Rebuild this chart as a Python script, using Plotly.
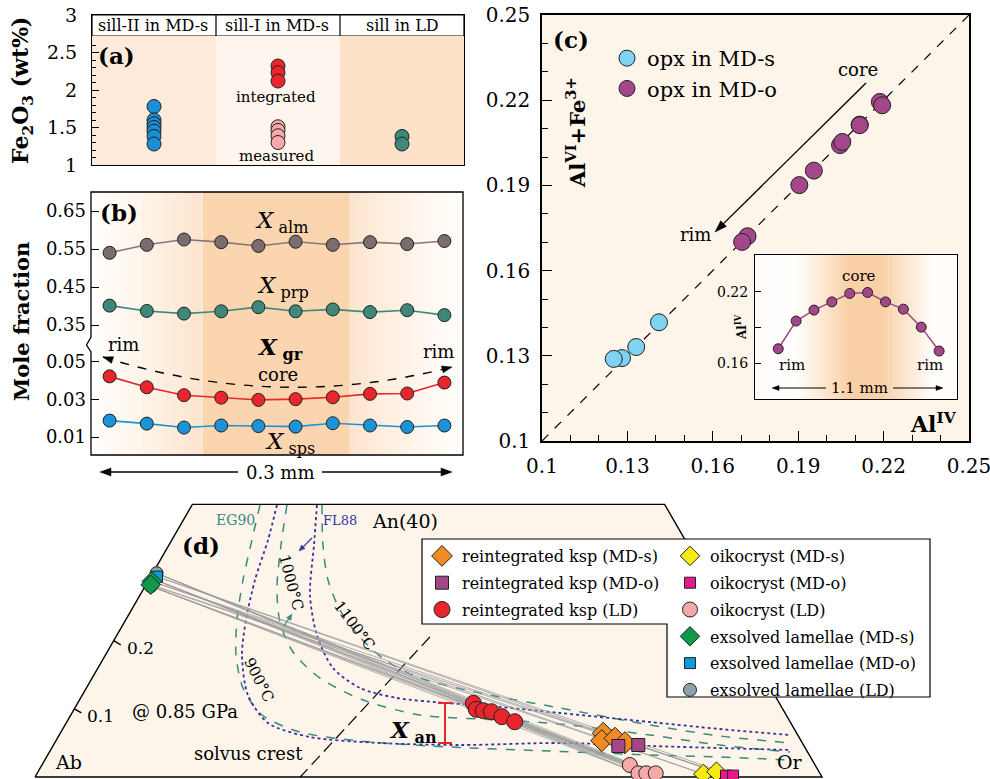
import math
import plotly.graph_objects as go

W, H = 990, 779
FONT = "DejaVu Serif"


def PX(x):
    return x / W


def PY(y):
    return 1 - y / H


# ---------------- (a) Fe2O3 ----------------
a_columns = ["sill-II in MD-s", "sill-I in MD-s", "sill in LD"]
a_sill2_fe2o3 = [1.78, 1.60, 1.55, 1.50, 1.45, 1.38, 1.28]
a_sill1_integrated = [2.32, 2.23, 2.12]
a_sill1_measured = [1.51, 1.46, 1.39, 1.30]
a_ld_fe2o3 = [1.38, 1.28]
a_yticks = [1, 1.5, 2, 2.5, 3]
a_yticktext = ["1", "1.5", "2", "2.5", "3"]

# ---------------- (b) garnet profile ----------------
b_points = [1, 2, 3, 4, 5, 6, 7, 8, 9, 10]
b_alm = [0.540, 0.561, 0.575, 0.568, 0.558, 0.569, 0.561, 0.568, 0.563, 0.571]
b_prp = [0.401, 0.387, 0.380, 0.386, 0.397, 0.386, 0.391, 0.384, 0.389, 0.376]
b_grs = [0.0423, 0.0365, 0.0323, 0.0310, 0.0298, 0.0302, 0.0312, 0.0330, 0.0332, 0.0390]
b_sps = [0.0188, 0.0172, 0.0151, 0.0162, 0.0159, 0.0156, 0.0174, 0.0162, 0.0154, 0.0162]
b_upper_ticks = [0.35, 0.45, 0.55, 0.65]
b_lower_ticks = [0.01, 0.03, 0.05]

# ---------------- (c) opx ----------------
c_mds_aliv = [0.1411, 0.1331, 0.1281, 0.1252]
c_mds_alvi_fe3 = [0.1418, 0.1331, 0.1292, 0.1289]
c_mdo_aliv = [0.1722, 0.1955, 0.2047, 0.2116, 0.2187, 0.2195, 0.2116, 0.2055, 0.1904, 0.1703]
c_mdo_alvi_fe3 = [0.1721, 0.1952, 0.2042, 0.2114, 0.2194, 0.2182, 0.2112, 0.2053, 0.1901, 0.1701]
c_profile_points = [1, 2, 3, 4, 5, 6, 7, 8, 9, 10]
c_ticks = [0.10, 0.13, 0.16, 0.19, 0.22, 0.25]
c_ticktext = ["0.1", "0.13", "0.16", "0.19", "0.22", "0.25"]

# ---------------- (d) feldspar (An, Or mole fractions) ----------------
d_reint_mds_an = [0.0641, 0.0533, 0.0568, 0.0503]
d_reint_mds_or = [0.690, 0.6935, 0.7086, 0.7245]
d_reint_mdo_an = [0.0455, 0.0469]
d_reint_mdo_or = [0.7185, 0.7431]
d_reint_ld_an = [0.1081, 0.0993, 0.0973, 0.0958, 0.0885, 0.0811]
d_reint_ld_or = [0.503, 0.511, 0.521, 0.532, 0.549, 0.569]
d_oik_mds_an = [0.0044, 0.0078]
d_oik_mds_or = [0.847, 0.862]
d_oik_mdo_an = [0.0020, 0.0020]
d_oik_mdo_or = [0.877, 0.886]
d_oik_ld_an = [0.0176, 0.0054, 0.0054, 0.0054]
d_oik_ld_or = [0.747, 0.764, 0.774, 0.786]
d_lam_mds_an = [0.287, 0.282]
d_lam_mds_or = [0.005, 0.006]
d_lam_mdo_an = [0.294]
d_lam_mdo_or = [0.008]
d_lam_ld_an = [0.299, 0.290, 0.280]
d_lam_ld_or = [0.005, 0.006, 0.007]

# solvus isotherms (EG90 dashed teal, FL88 dotted navy)
eg90_900_an = [0.3991, 0.3477, 0.2890, 0.2303, 0.1790, 0.1306, 0.0910, 0.0660, 0.0528, 0.0440, 0.0381, 0.0323, 0.0293, 0.0249]
eg90_900_or = [0.0863, 0.1018, 0.1198, 0.1415, 0.1659, 0.1990, 0.2429, 0.3037, 0.3866, 0.5053, 0.6353, 0.7652, 0.8557, 0.9468]
eg90_1000_an = [0.3991, 0.3404, 0.2773, 0.2274, 0.1834, 0.1452, 0.1130, 0.0910, 0.0836, 0.0778, 0.0616, 0.0469, 0.0367]
eg90_1000_or = [0.1206, 0.1424, 0.1688, 0.1976, 0.2361, 0.2895, 0.3603, 0.4437, 0.5491, 0.6282, 0.7506, 0.8469, 0.9409]
eg90_1100_an = [0.3991, 0.3404, 0.2890, 0.2450, 0.2083, 0.1717, 0.1452, 0.1232, 0.1012, 0.0763, 0.0602, 0.0499]
eg90_1100_or = [0.1651, 0.1957, 0.2278, 0.2650, 0.3062, 0.3588, 0.4166, 0.5038, 0.6165, 0.7432, 0.8403, 0.9343]
fl88_900_an = [0.3991, 0.3477, 0.2890, 0.2303, 0.1790, 0.1203, 0.0792, 0.0587, 0.0499, 0.0469, 0.0499, 0.0455, 0.0425, 0.0396]
fl88_900_or = [0.1079, 0.1222, 0.1350, 0.1529, 0.1735, 0.2104, 0.2565, 0.3200, 0.4134, 0.5165, 0.6421, 0.7586, 0.8491, 0.9395]
fl88_1000_an = [0.3991, 0.3404, 0.2670, 0.2083, 0.1599, 0.1306, 0.1159, 0.1086, 0.1027, 0.0939, 0.0807, 0.0704, 0.0616]
fl88_1000_or = [0.1587, 0.1843, 0.2159, 0.2541, 0.2987, 0.3477, 0.4020, 0.4692, 0.5395, 0.6201, 0.7410, 0.8352, 0.9285]
solvus_crest_an = [0.2054, 0.0]
solvus_crest_or = [0.399, 0.337]
frame_an = [0.0, 0.4, 0.4, 0.0, 0.0]
frame_or = [0.0, 0.0, 0.6, 1.0, 0.0]
an_ticks = [0.1, 0.2, 0.3]


def tx(an, orr):
    """ternary projection: horizontal coordinate"""
    return [o + a / 2 for a, o in zip(an, orr)]


# ---------------- colours ----------------
BLUE = "#1a8fd3"
RED = "#e8262b"
PINK = "#f5a9a9"
TEAL = "#3d8878"
GRAYM = "#7b6d6d"
LBLUE = "#7fd3f2"
PURP = "#a3478a"
ORANGE = "#f08a24"
YELLOW = "#f6ea16"
MAGENTA = "#e8198b"
GREEN = "#0f9a4a"
SQBLUE = "#0b9bd8"
LGRAY = "#8ea2ad"
CREAM = "#fdf5ea"
EGC = "#3a8a7a"
FLC = "#34349e"
OUT = dict(color="#222222", width=1)

fig = go.Figure()

# ---- (a)
for xs, yv, col in [(a_columns[0], a_sill2_fe2o3, BLUE), (a_columns[1], a_sill1_integrated, RED),
                    (a_columns[1], a_sill1_measured, PINK), (a_columns[2], a_ld_fe2o3, TEAL)]:
    fig.add_trace(go.Scatter(x=[xs] * len(yv), y=yv, mode="markers",
                             marker=dict(size=14, color=col, line=OUT),
                             xaxis="x", yaxis="y", showlegend=False))

# ---- (b)
for yv, lc, mc, ya in [(b_alm, "#857777", GRAYM, "y3"), (b_prp, "#3a8a7a", TEAL, "y3"),
                       (b_grs, RED, RED, "y2"), (b_sps, "#1b93d6", "#1b93d6", "y2")]:
    fig.add_trace(go.Scatter(x=b_points, y=yv, mode="lines+markers",
                             line=dict(color=lc, width=1.6),
                             marker=dict(size=13, color=mc, line=OUT),
                             xaxis="x2", yaxis=ya, showlegend=False))

# ---- (c)
fig.add_trace(go.Scatter(x=c_mds_aliv, y=c_mds_alvi_fe3, mode="markers", name="opx in MD-s",
                         marker=dict(size=17, color=LBLUE, line=OUT), xaxis="x3", yaxis="y4", legend="legend"))
fig.add_trace(go.Scatter(x=c_mdo_aliv, y=c_mdo_alvi_fe3, mode="markers", name="opx in MD-o",
                         marker=dict(size=17, color=PURP, line=OUT), xaxis="x3", yaxis="y4", legend="legend"))
fig.add_trace(go.Scatter(x=c_profile_points, y=c_mdo_aliv, mode="lines+markers",
                         line=dict(color=PURP, width=1.5),
                         marker=dict(size=10, color=PURP, line=OUT),
                         xaxis="x4", yaxis="y5", showlegend=False))

# ---- (d)
fig.add_trace(go.Scatter(x=tx(frame_an, frame_or), y=frame_an, mode="lines", fill="toself",
                         fillcolor=CREAM, line=dict(color="black", width=1.4),
                         xaxis="x5", yaxis="y6", showlegend=False, hoverinfo="skip"))
tick_x, tick_y = [], []
for a in an_ticks:
    tick_x += [a / 2, (a - 0.006) / 2 + 0.012, None]
    tick_y += [a, a - 0.006, None]
fig.add_trace(go.Scatter(x=tick_x, y=tick_y, mode="lines", line=dict(color="black", width=1.4),
                         xaxis="x5", yaxis="y6", showlegend=False, hoverinfo="skip"))

for an, orr, col, dash, w in [(eg90_900_an, eg90_900_or, EGC, "dash", 1.5),
                              (eg90_1000_an, eg90_1000_or, EGC, "dash", 1.5),
                              (eg90_1100_an, eg90_1100_or, EGC, "dash", 1.5),
                              (fl88_900_an, fl88_900_or, FLC, "dot", 1.8),
                              (fl88_1000_an, fl88_1000_or, FLC, "dot", 1.8)]:
    fig.add_trace(go.Scatter(x=tx(an, orr), y=an, mode="lines",
                             line=dict(color=col, dash=dash, width=w, shape="spline", smoothing=0.8),
                             xaxis="x5", yaxis="y6", showlegend=False, hoverinfo="skip"))
fig.add_trace(go.Scatter(x=tx(solvus_crest_an, solvus_crest_or), y=solvus_crest_an, mode="lines",
                         line=dict(color="black", dash="12px,6px", width=1.2),
                         xaxis="x5", yaxis="y6", showlegend=False, hoverinfo="skip"))

# tie lines lamellae -> oikocryst
tie_x, tie_y = [], []
for la_an, la_or, oi_an, oi_or in [(d_lam_ld_an, d_lam_ld_or, d_oik_ld_an, d_oik_ld_or),
                                   (d_lam_mds_an, d_lam_mds_or, d_oik_mds_an, d_oik_mds_or),
                                   (d_lam_mdo_an, d_lam_mdo_or, d_oik_mdo_an, d_oik_mdo_or)]:
    for a1, o1 in zip(la_an, la_or):
        for a2, o2 in zip(oi_an, oi_or):
            tie_x += [o1 + a1 / 2, o2 + a2 / 2, None]
            tie_y += [a1, a2, None]
fig.add_trace(go.Scatter(x=tie_x, y=tie_y, mode="lines", line=dict(color="#9c9c9c", width=0.8),
                         xaxis="x5", yaxis="y6", showlegend=False, hoverinfo="skip"))

d_series = [
    ("reintegrated ksp (MD-s)", d_reint_mds_an, d_reint_mds_or, "diamond", 17, ORANGE, "legend2"),
    ("reintegrated ksp (MD-o)", d_reint_mdo_an, d_reint_mdo_or, "square", 13, PURP, "legend2"),
    ("reintegrated ksp (LD)", d_reint_ld_an, d_reint_ld_or, "circle", 16, RED, "legend2"),
    ("oikocryst (MD-s)", d_oik_mds_an, d_oik_mds_or, "diamond", 15, YELLOW, "legend3"),
    ("oikocryst (MD-o)", d_oik_mdo_an, d_oik_mdo_or, "square", 11, MAGENTA, "legend3"),
    ("oikocryst (LD)", d_oik_ld_an, d_oik_ld_or, "circle", 15, PINK, "legend3"),
    ("exsolved lamellae (MD-s)", d_lam_mds_an, d_lam_mds_or, "diamond", 15, GREEN, "legend3"),
    ("exsolved lamellae (MD-o)", d_lam_mdo_an, d_lam_mdo_or, "square", 11, SQBLUE, "legend3"),
    ("exsolved lamellae (LD)", d_lam_ld_an, d_lam_ld_or, "circle", 13, LGRAY, "legend3"),
]
order = [0, 1, 2, 3, 4, 5, 8, 7, 6]
for i in order:
    name, an, orr, sym, sz, col, lg = d_series[i]
    fig.add_trace(go.Scatter(x=tx(an, orr), y=an, mode="markers", name=name,
                             marker=dict(symbol=sym, size=sz, color=col, line=OUT),
                             xaxis="x5", yaxis="y6", legend=lg, legendrank=i + 1,
                             legendgroup="g%d" % i))

# ---------------- shapes ----------------
shapes = []
a_bg = ["#fdeadb", "#fef6ee", "#fde1c8"]
for i, c in enumerate(a_bg):
    shapes.append(dict(type="rect", xref="x", yref="y", x0=i - 0.5, x1=i + 0.5, y0=1, y1=2.72,
                       fillcolor=c, line_width=0, layer="below"))
shapes.append(dict(type="rect", xref="x domain", yref="y", x0=0, x1=1, y0=2.72, y1=3,
                   fillcolor="white", line=dict(color="black", width=1.2), layer="below"))
for xv in [0.5, 1.5]:
    shapes.append(dict(type="line", xref="x", yref="y", x0=xv, x1=xv, y0=2.72, y1=3,
                       line=dict(color="black", width=1.2), layer="below"))


def lerp(c0, c1, t):
    return "rgb(%d,%d,%d)" % tuple(round(a + (b - a) * t) for a, b in zip(c0, c1))


# (b) background gradient
n = 74
for i in range(n):
    f0, f1 = i / n, (i + 1) / n
    fm = (f0 + f1) / 2
    if fm < 0.301:
        t = fm / 0.301
    elif fm > 0.694:
        t = (1 - fm) / (1 - 0.694)
    else:
        continue
    shapes.append(dict(type="rect", xref="x2 domain", yref="paper", x0=f0, x1=min(1, f1 + 0.003),
                       y0=PY(455), y1=PY(192), fillcolor=lerp((255, 254, 252), (253, 228, 205), t ** 1.2),
                       line_width=0, layer="below"))
shapes.append(dict(type="rect", xref="x2 domain", yref="paper", x0=0.301, x1=0.694,
                   y0=PY(455), y1=PY(192), fillcolor="#fbd5b0", line_width=0, layer="below"))


def path(pts, close=False):
    s = "M " + " L ".join("%.5f,%.5f" % (PX(x), PY(y)) for x, y in pts)
    return s + (" Z" if close else "")


shapes.append(dict(type="path", xref="paper", yref="paper",
                   path=path([(91, 337), (91, 192), (463, 192), (463, 455), (91, 455), (91, 352), (86.5, 345)], True),
                   line=dict(color="black", width=1.3), layer="above"))
shapes.append(dict(type="path", xref="paper", yref="paper",
                   path="M %.5f,%.5f Q %.5f,%.5f %.5f,%.5f" % (PX(103), PY(357), PX(276.5), PY(412), PX(452), PY(367)),
                   line=dict(color="black", width=1.4, dash="dash"), layer="above"))

# (c) background + 1:1 line
shapes.append(dict(type="rect", xref="x3 domain", yref="y4 domain", x0=0, x1=1, y0=0, y1=1,
                   fillcolor=CREAM, line_width=0, layer="below"))
shapes.append(dict(type="line", xref="x3", yref="y4", x0=0.1, y0=0.1, x1=0.25, y1=0.25,
                   line=dict(color="black", width=1.2, dash="dash"), layer="below"))
n = 50
for i in range(n):
    f0, f1 = i / n, (i + 1) / n
    fm = (f0 + f1) / 2
    t = max(0.0, 1 - abs(fm - 0.545) / 0.34)
    t = min(1.0, t * 1.3)
    shapes.append(dict(type="rect", xref="x4 domain", yref="y5 domain", x0=f0, x1=min(1, f1 + 0.004),
                       y0=0, y1=1, fillcolor=lerp((255, 254, 252), (250, 208, 166), t),
                       line_width=0, layer="below"))

# (d) X_an bar and legend box
shapes.append(dict(type="line", xref="paper", yref="paper", x0=PX(445), x1=PX(445), y0=PY(703), y1=PY(743),
                   line=dict(color=RED, width=2), layer="above"))
for yy in (703, 743):
    shapes.append(dict(type="line", xref="paper", yref="paper", x0=PX(438), x1=PX(452), y0=PY(yy), y1=PY(yy),
                       line=dict(color=RED, width=2), layer="above"))
shapes.append(dict(type="path", xref="paper", yref="paper",
                   path=path([(422, 539), (930, 539), (930, 697), (667, 697), (667, 624), (422, 624)], True),
                   fillcolor="white", line=dict(color="black", width=1.2), layer="above"))


def arrow(hx, hy, tx_, ty_, color="black", width=1.4, hl=10, hw=7, shaft=True):
    dx, dy = hx - tx_, hy - ty_
    L = math.hypot(dx, dy)
    ux, uy = dx / L, dy / L
    bx, by = hx - ux * hl, hy - uy * hl
    nx, ny = -uy, ux
    if shaft:
        shapes.append(dict(type="line", xref="paper", yref="paper",
                           x0=PX(tx_), y0=PY(ty_), x1=PX(bx + ux * 1.5), y1=PY(by + uy * 1.5),
                           line=dict(color=color, width=width), layer="above"))
    shapes.append(dict(type="path", xref="paper", yref="paper",
                       path=path([(hx, hy), (bx + nx * hw / 2, by + ny * hw / 2),
                                  (bx - nx * hw / 2, by - ny * hw / 2)], True),
                       fillcolor=color, line=dict(color=color, width=0.5), layer="above"))


# arrows
arrow(103, 357, 114, 360.5, hl=10, hw=7, shaft=False)
arrow(452, 367, 441.3, 369.7, hl=10, hw=7, shaft=False)
arrow(100, 472, 238, 472, hl=11, hw=8)
arrow(452, 472, 322, 472, hl=11, hw=8)
arrow(715, 232, 866, 83, hl=12, hw=8)
arrow(772, 388, 826, 388, hl=7, hw=5, width=1.1)
arrow(943, 388, 893, 388, hl=7, hw=5, width=1.1)
arrow(299, 551, 312, 538, color=FLC, hl=6, hw=5, width=1.2)
arrow(292, 614, 284, 626, color=EGC, hl=6, hw=5, width=1.2)

# ---------------- annotations ----------------
ann = []


def txt(x, y, s, size, color="black", angle=0, xanchor="center"):
    ann.append(dict(x=PX(x), y=PY(y), xref="paper", yref="paper", text=s, showarrow=False,
                    font=dict(family=FONT, size=size, color=color), textangle=angle,
                    xanchor=xanchor, yanchor="middle"))


# (a)
txt(116, 55, "<b>(a)</b>", 23)
for xc, s in zip([153, 277, 402], a_columns):
    txt(xc, 25, s, 16)
txt(276, 97, "integrated", 15)
txt(276, 156, "measured", 15)
txt(22, 90, "<b>Fe<sub>2</sub>O<sub>3</sub> (wt%)</b>", 22, angle=-90)

# (b)
txt(119, 212, "<b>(b)</b>", 23)
txt(282, 222, "<i>X</i><sub> alm</sub>", 23)
txt(283, 287, "<i>X</i><sub> prp</sub>", 23)
txt(280, 348, "<b><i>X</i><sub> gr</sub></b>", 23)
txt(278, 374, "core", 18)
txt(290, 443, "<i>X</i><sub> sps</sub>", 23)
txt(123, 344, "rim", 18)
txt(438, 351, "rim", 18)
txt(280, 472, "0.3 mm", 18)
txt(22, 322, "<b>Mole fraction</b>", 21, angle=-90)

# (c)
txt(571, 40, "<b>(c)</b>", 23)
txt(858, 70, "core", 18)
txt(695, 234, "rim", 18)
txt(576, 133, "<b>Al<sup>VI</sup>+Fe<sup>3+</sup></b>", 21, angle=-90)
txt(933, 423, "<b>Al<sup>IV</sup></b>", 22)
txt(859, 276, "core", 15)
txt(792, 365, "rim", 15)
txt(930, 365, "rim", 15)
txt(859, 388, "1.1 mm", 15)
txt(741, 327, "<b>Al<sup>IV</sup></b>", 12, angle=-90)

# (d)
txt(201, 545, "<b>(d)</b>", 23)
txt(235, 520, "EG90", 14, color=EGC)
txt(340, 520, "FL88", 13, color=FLC)
txt(405, 521, "An(40)", 19)
txt(140, 648, "0.2", 17)
txt(100, 716, "0.1", 17)
txt(185, 711, "@ 0.85 GPa", 18)
txt(68, 762, "Ab", 19)
txt(790, 762, "Or", 19)
txt(248, 753, "solvus crest", 18)
txt(413, 731, "<b><i>X</i><sub> an</sub></b>", 23)
txt(259, 680, "900°C", 15, angle=63)
txt(291, 582, "1000°C", 15, angle=75)
txt(354, 625, "1100°C", 15, angle=53)

# ---------------- axes ----------------
common = dict(showgrid=False, zeroline=False, fixedrange=True, automargin=False)

layout = dict(
    template="none",
    width=W, height=H, margin=dict(l=0, r=0, t=0, b=0, pad=0, autoexpand=False),
    paper_bgcolor="white", plot_bgcolor="rgba(0,0,0,0)",
    font=dict(family=FONT, color="black"),
    shapes=shapes, annotations=ann,
    xaxis=dict(domain=[PX(92), PX(464)], range=[-0.5, 2.5], type="category", anchor="y",
               showline=True, mirror=True, linecolor="black", linewidth=1.2,
               showticklabels=False, ticks="", **common),
    yaxis=dict(domain=[PY(165), PY(15)], range=[1, 3], anchor="x",
               tickvals=a_yticks, ticktext=a_yticktext, ticks="inside", ticklen=7, tickcolor="black",
               minor=dict(tickvals=[1.1, 1.2, 1.3, 1.4, 1.6, 1.7, 1.8, 1.9, 2.1, 2.2, 2.3, 2.4, 2.6],
                          ticks="inside", ticklen=4, tickcolor="black"),
               showline=True, mirror=True, linecolor="black", linewidth=1.2, ticklabeloverflow="allow",
               tickfont=dict(family=FONT, size=19), ticklabelstandoff=10, **common),
    xaxis2=dict(domain=[PX(91), PX(463)], range=[0.5, 10.5], anchor="y2", visible=False, **common),
    yaxis2=dict(domain=[PY(455), PY(347)], range=[0.00053, 0.0579], anchor="x2",
                tickvals=b_lower_ticks, ticktext=["%.2f" % v for v in b_lower_ticks],
                ticks="inside", ticklen=8, tickcolor="black", showline=False,
                tickfont=dict(family=FONT, size=18), ticklabelstandoff=4, **common),
    yaxis3=dict(domain=[PY(347), PY(192)], range=[0.2921, 0.70], anchor="x2",
                tickvals=b_upper_ticks, ticktext=["%.2f" % v for v in b_upper_ticks],
                ticks="inside", ticklen=8, tickcolor="black", showline=False,
                tickfont=dict(family=FONT, size=18), ticklabelstandoff=4, **common),
    xaxis3=dict(domain=[PX(542), PX(969)], range=[0.1, 0.25], anchor="y4",
                tickvals=c_ticks, ticktext=c_ticktext, ticks="inside", ticklen=10, tickcolor="black",
                minor=dict(dtick=0.01, tick0=0.1, ticks="inside", ticklen=6, tickcolor="black"),
                showline=True, mirror=True, linecolor="black", linewidth=1.5, ticklabeloverflow="allow",
                tickfont=dict(family=FONT, size=20), ticklabelstandoff=6, **common),
    yaxis4=dict(domain=[PY(441), PY(15)], range=[0.1, 0.25], anchor="x3",
                tickvals=c_ticks, ticktext=c_ticktext, ticks="inside", ticklen=10, tickcolor="black",
                minor=dict(dtick=0.01, tick0=0.1, ticks="inside", ticklen=6, tickcolor="black"),
                showline=True, mirror=True, linecolor="black", linewidth=1.5, ticklabeloverflow="allow",
                tickfont=dict(family=FONT, size=20), ticklabelstandoff=6, **common),
    xaxis4=dict(domain=[PX(755), PX(957)], range=[-0.3, 11], anchor="y5",
                showline=True, mirror=True, linecolor="black", linewidth=1,
                showticklabels=False, ticks="", **common),
    yaxis5=dict(domain=[PY(399), PY(255)], range=[0.13, 0.251], anchor="x4",
                tickvals=[0.16, 0.22], ticktext=["0.16", "0.22"],
                minor=dict(tickvals=[0.19], ticks="inside", ticklen=6, tickcolor="black"),
                ticks="inside", ticklen=6, tickcolor="black", ticklabeloverflow="allow",
                showline=True, mirror=True, linecolor="black", linewidth=1,
                tickfont=dict(family=FONT, size=14), ticklabelstandoff=3, **common),
    xaxis5=dict(domain=[0, 1], range=[-35 / 787, 955 / 787], anchor="y6", visible=False, **common),
    yaxis6=dict(domain=[0, PY(495)], range=[-2 / 681.6, 282 / 681.6], anchor="x5", visible=False, **common),
    legend=dict(x=PX(607), y=PY(38), xanchor="left", yanchor="top", bgcolor="rgba(0,0,0,0)",
                borderwidth=0, font=dict(family=FONT, size=21)),
    legend2=dict(x=PX(422), y=PY(539), xanchor="left", yanchor="top", bgcolor="rgba(0,0,0,0)",
                 borderwidth=0, font=dict(family=FONT, size=16), tracegroupgap=3),
    legend3=dict(x=PX(670), y=PY(539), xanchor="left", yanchor="top", bgcolor="rgba(0,0,0,0)",
                 borderwidth=0, font=dict(family=FONT, size=16), tracegroupgap=3),
    showlegend=True,
)
fig.update_layout(**layout)
fig.write_html("out.html", config={"displayModeBar": False},
               post_script="document.body.style.margin='0';document.body.style.overflow='hidden';")
